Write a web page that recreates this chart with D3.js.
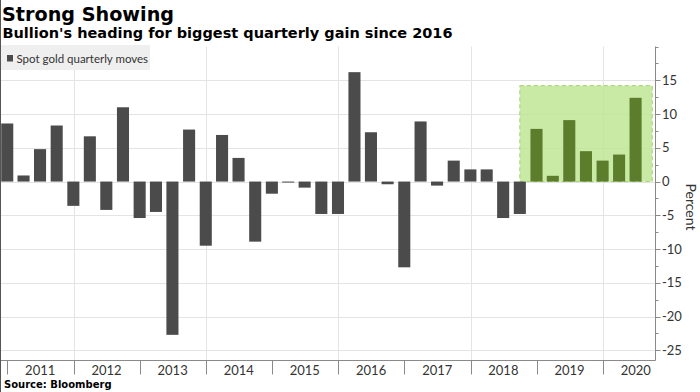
<!DOCTYPE html>
<html>
<head>
<meta charset="utf-8">
<script src="https://cdn.jsdelivr.net/npm/d3@7"></script>
<style>
  body { margin: 0; background: #fff; }
  svg { display: block; }
</style>
</head>
<body>
<script>
// quarterly spot gold moves, in percent
let quarters = ["2010Q4",
    "2011Q1", "2011Q2", "2011Q3", "2011Q4",
    "2012Q1", "2012Q2", "2012Q3", "2012Q4",
    "2013Q1", "2013Q2", "2013Q3", "2013Q4",
    "2014Q1", "2014Q2", "2014Q3", "2014Q4",
    "2015Q1", "2015Q2", "2015Q3", "2015Q4",
    "2016Q1", "2016Q2", "2016Q3", "2016Q4",
    "2017Q1", "2017Q2", "2017Q3", "2017Q4",
    "2018Q1", "2018Q2", "2018Q3", "2018Q4",
    "2019Q1", "2019Q2", "2019Q3", "2019Q4",
    "2020Q1", "2020Q2"];
let moves = [8.6,
    0.9, 4.8, 8.3, -3.6,
    6.7, -4.2, 11.0, -5.4,
    -4.5, -22.7, 7.7, -9.5,
    6.9, 3.5, -8.9, -1.8,
    -0.15, -0.9, -4.8, -4.8,
    16.2, 7.3, -0.4, -12.7,
    8.9, -0.6, 3.1, 1.8,
    1.8, -5.4, -4.8, 7.8,
    0.85, 9.1, 4.5, 3.1,
    4.0, 12.4];
let highlightFrom = "2018Q4";   // bars from here on are green
let highlightBox = {from: "2018-09-30", to: "2020-09-30", top: 14.2};
let yearLabels = ["2011", "2012", "2013", "2014", "2015", "2016", "2017", "2018", "2019", "2020"];
let yTicks = [-25, -20, -15, -10, -5, 0, 5, 10, 15];

let width = 700,
    height = 392,
    plot = {left: 0, right: 655.5, top: 46.5, bottom: 360.5};

let data = quarters.map((q, i) => ({
    q: q,
    date: quarterEnd(q),
    value: moves[i],
    green: quarters.indexOf(q) >= quarters.indexOf(highlightFrom)
}));

let x = d3.scaleTime()
    .domain([new Date(2010, 10, 21), new Date(2020, 9, 18)])
    .range([plot.left, plot.right]);
let y = d3.scaleLinear()
    .domain([-26.5, 20])
    .range([plot.bottom, plot.top]);

let svg = d3.select("body").append("svg")
    .attr("width", width)
    .attr("height", height);

// gridlines
svg.append("g")
    .selectAll("line").data(yTicks).enter().append("line")
    .attr("x1", plot.left).attr("x2", plot.right)
    .attr("y1", d => Math.round(y(d)) + 0.5).attr("y2", d => Math.round(y(d)) + 0.5)
    .attr("stroke", "#e4e4e4");
svg.append("g")
    .selectAll("line").data(yearLabels.filter(d => +d % 2 == 0)).enter().append("line")
    .attr("x1", d => Math.round(x(new Date(+d, 0, 1))) + 0.5)
    .attr("x2", d => Math.round(x(new Date(+d, 0, 1))) + 0.5)
    .attr("y1", plot.top).attr("y2", plot.bottom)
    .attr("stroke", "#e4e4e4");

// highlighted region
svg.append("rect")
    .attr("x", x(new Date(highlightBox.from)))
    .attr("y", y(highlightBox.top))
    .attr("width", x(new Date(highlightBox.to)) - x(new Date(highlightBox.from)))
    .attr("height", y(0) - y(highlightBox.top))
    .attr("fill", "#c0e694")
    .attr("fill-opacity", 0.85)
    .attr("stroke", "#a3d174")
    .attr("stroke-width", 1)
    .attr("stroke-dasharray", "4,3");

// bars
let step = x(new Date(2011, 3, 1)) - x(new Date(2011, 0, 1));
let barWidth = step * 0.74;
svg.append("g")
    .selectAll("rect").data(data).enter().append("rect")
    .attr("x", d => x(d.date) - barWidth / 2)
    .attr("y", d => y(Math.max(0, d.value)))
    .attr("width", barWidth)
    .attr("height", d => Math.max(0.8, Math.abs(y(d.value) - y(0))))
    .attr("fill", d => d.green ? "#5b7d2c" : "#4b4b4b");

// x axis: baseline, year ticks, labels
let axisColor = "#8a8a8a";
svg.append("line")
    .attr("x1", plot.left).attr("x2", plot.right)
    .attr("y1", plot.bottom).attr("y2", plot.bottom)
    .attr("stroke", axisColor);
svg.append("g")
    .selectAll("line").data(yearLabels).enter().append("line")
    .attr("x1", d => Math.round(x(new Date(+d, 0, 1))) + 0.5)
    .attr("x2", d => Math.round(x(new Date(+d, 0, 1))) + 0.5)
    .attr("y1", plot.bottom).attr("y2", plot.bottom + 14)
    .attr("stroke", axisColor);
svg.append("g")
    .selectAll("text").data(yearLabels).enter().append("text")
    .attr("x", d => x(new Date(+d, 6, 1)))
    .attr("y", 374.5)
    .attr("text-anchor", "middle")
    .attr("font-family", "Lato, sans-serif")
    .attr("font-size", "13px")
    .attr("fill", "#333")
    .text(d => d);

// y axis on the right
svg.append("line")
    .attr("x1", plot.right).attr("x2", plot.right)
    .attr("y1", plot.top).attr("y2", plot.bottom)
    .attr("stroke", axisColor);
let minorTicks = d3.range(-25, 20.1, 2.5);
svg.append("g")
    .selectAll("line").data(minorTicks).enter().append("line")
    .attr("x1", plot.right)
    .attr("x2", d => plot.right + (d % 5 == 0 && d < 20 ? 5 : 3))
    .attr("y1", d => Math.round(y(d)) + 0.5).attr("y2", d => Math.round(y(d)) + 0.5)
    .attr("stroke", axisColor);
svg.append("g")
    .selectAll("text").data(yTicks).enter().append("text")
    .attr("x", 662)
    .attr("y", d => y(d) + 4.5)
    .attr("font-family", "Lato, sans-serif")
    .attr("font-size", "13px")
    .attr("fill", "#333")
    .text(d => d);
svg.append("text")
    .attr("transform", translate(686, 207) + " rotate(90)")
    .attr("text-anchor", "middle")
    .attr("font-family", "Lato, sans-serif")
    .attr("font-size", "14px")
    .attr("fill", "#333")
    .text("Percent");

// legend
svg.append("rect")
    .attr("x", 0).attr("y", 45)
    .attr("width", 150).attr("height", 25)
    .attr("fill", "#efefef");
svg.append("rect")
    .attr("x", 7).attr("y", 55)
    .attr("width", 6).attr("height", 6.5)
    .attr("fill", "#4b4b4b");
svg.append("text")
    .attr("x", 16.5).attr("y", 62.5)
    .attr("font-family", "Lato, sans-serif")
    .attr("font-size", "11.5px")
    .attr("fill", "#333")
    .text("Spot gold quarterly moves");

// titles and source
svg.append("text")
    .attr("x", 2).attr("y", 20.7)
    .attr("font-family", "DejaVu Sans")
    .attr("font-weight", "bold")
    .attr("font-size", "19.2px")
    .attr("fill", "#000")
    .text("Strong Showing");
svg.append("text")
    .attr("x", 2.5).attr("y", 38.3)
    .attr("font-family", "DejaVu Sans")
    .attr("font-weight", "bold")
    .attr("font-size", "14.5px")
    .attr("fill", "#000")
    .text("Bullion's heading for biggest quarterly gain since 2016");
svg.append("text")
    .attr("x", 4).attr("y", 388.3)
    .attr("font-family", "DejaVu Sans")
    .attr("font-weight", "bold")
    .attr("font-size", "10px")
    .attr("fill", "#000")
    .text("Source: Bloomberg");

// thin frame edge on the left
svg.append("line")
    .attr("x1", 0.5).attr("x2", 0.5)
    .attr("y1", 0).attr("y2", height)
    .attr("stroke", "#555");

function quarterEnd(q) {
    let year = +q.slice(0, 4), n = +q.slice(5);
    return new Date(year, n * 3, 0);
}

function translate(x, y) {
    return `translate(${x}, ${y})`;
}
</script>
</body>
</html>
